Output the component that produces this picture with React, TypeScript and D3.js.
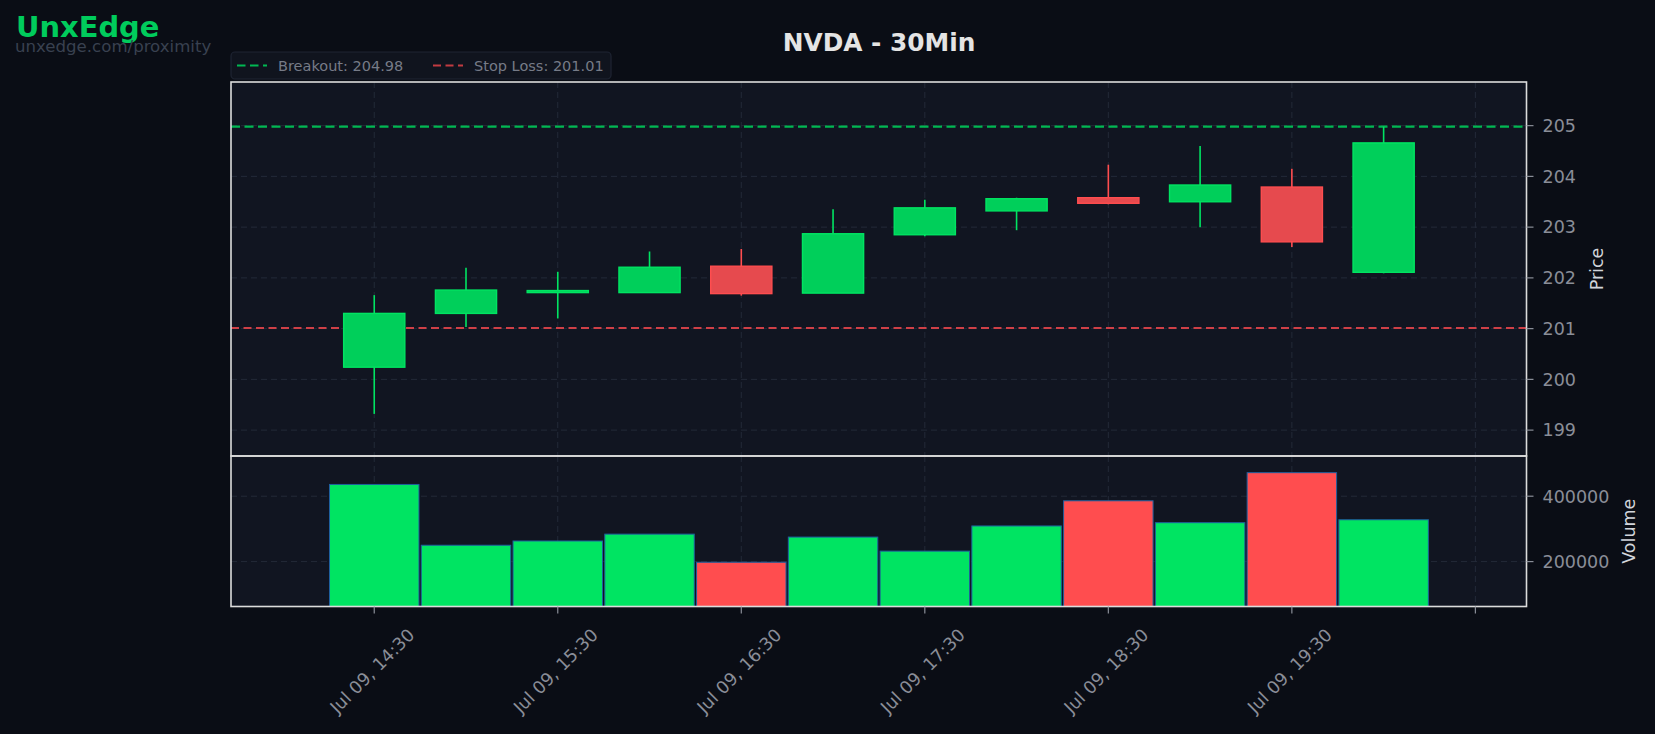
import React from "react";
import * as d3 from "d3";

// ---- data ----
const times = [
  "2025-07-09T14:30", "2025-07-09T15:00", "2025-07-09T15:30", "2025-07-09T16:00",
  "2025-07-09T16:30", "2025-07-09T17:00", "2025-07-09T17:30", "2025-07-09T18:00",
  "2025-07-09T18:30", "2025-07-09T19:00", "2025-07-09T19:30", "2025-07-09T20:00",
];
const opens = [200.24, 201.30, 201.71, 201.71, 202.23, 201.70, 202.85, 203.32, 203.58, 203.50, 203.79, 202.11];
const highs = [201.66, 202.20, 202.12, 202.52, 202.57, 203.35, 203.54, 203.58, 204.23, 204.60, 204.15, 204.98];
const lows = [199.32, 201.03, 201.20, 201.71, 201.65, 201.70, 202.82, 202.94, 203.45, 203.00, 202.61, 202.09];
const closes = [201.30, 201.76, 201.75, 202.21, 201.69, 202.87, 203.38, 203.56, 203.47, 203.83, 202.71, 204.66];
const volumes = [436000, 250000, 263000, 284000, 198000, 275000, 232000, 309000, 386000, 319000, 472000, 328000];

const breakout = 204.98;
const stopLoss = 201.01;
const priceTicks = [199, 200, 201, 202, 203, 204, 205];
const volumeTicks = [200000, 400000];
const xTickTimes = [
  "2025-07-09T14:30", "2025-07-09T15:30", "2025-07-09T16:30", "2025-07-09T17:30",
  "2025-07-09T18:30", "2025-07-09T19:30", "2025-07-09T20:30",
];
const xLabeled = [true, true, true, true, true, true, false];

const title = "NVDA - 30Min";

// ---- styling ----
const W = 1655, H = 734;
const PL = 231, PR = 1526.5;
const PT = 82, PB = 456;
const VT = 456, VB = 606.5;
const BG = "#0a0d15";
const PLOT_BG = "#111521";
const GRID = "#232a38";
const FRAME = "#dcdcdc";
const TICK = "#8a8e98";
const UP_FILL = "#00cf5a";
const UP_EDGE = "#00e462";
const DN_FILL = "#e64a4e";
const DN_EDGE = "#ff4d4f";
const FONT = "DejaVu Sans, sans-serif";

const parse = (s: string) => {
  const [d, t] = s.split("T");
  const [y, m, dd] = d.split("-").map(Number);
  const [hh, mm] = t.split(":").map(Number);
  return new Date(Date.UTC(y, m - 1, dd, hh, mm));
};

export default function App() {
  const dates = times.map(parse);
  const step = 30 * 60 * 1000;
  const t0 = dates[0].getTime();
  const x = d3
    .scaleUtc()
    .domain([new Date(t0 - 1.561 * step), new Date(t0 + 12.557 * step)])
    .range([PL, PR]);
  const y = d3.scaleLinear().domain([198.49, 205.86]).range([PB, PT]);
  const yv = d3.scaleLinear().domain([62600, 523000]).range([VB, VT]);
  const fmt = d3.utcFormat("%b %d, %H:%M");
  const stepPx = x(new Date(t0 + step)) - x(new Date(t0));
  const bodyW = stepPx * (2 / 3);
  const volW = stepPx * 0.975;
  const xt = xTickTimes.map(parse);

  return (
    <svg
      width={W}
      height={H}
      style={{ position: "absolute", left: 0, top: 0, background: BG }}
      fontFamily={FONT}
    >
      <rect x={0} y={0} width={W} height={H} fill={BG} />
      {/* logo */}
      <text x={16} y={37} fontSize={28.9} fontWeight="bold" fill="#00cc5c">UnxEdge</text>
      <text x={15} y={51.5} fontSize={16.6} fill="#394150">unxedge.com/proximity</text>
      {/* title */}
      <text x={879} y={51} fontSize={24.8} fontWeight="bold" fill="#e4e4e4" textAnchor="middle">
        {title}
      </text>

      {/* panels background */}
      <rect x={PL} y={PT} width={PR - PL} height={PB - PT} fill={PLOT_BG} />
      <rect x={PL} y={VT} width={PR - PL} height={VB - VT} fill={PLOT_BG} />

      {/* grid */}
      {xt.map((t, i) => (
        <g key={"vg" + i}>
          <line x1={x(t)} x2={x(t)} y1={PT} y2={PB} stroke={GRID} strokeDasharray="6 4" strokeWidth={1} />
          <line x1={x(t)} x2={x(t)} y1={VT} y2={VB} stroke={GRID} strokeDasharray="6 4" strokeWidth={1} />
        </g>
      ))}
      {priceTicks.map((p) => (
        <line key={"hg" + p} x1={PL} x2={PR} y1={y(p)} y2={y(p)} stroke={GRID} strokeDasharray="6 4" strokeWidth={1} />
      ))}
      {volumeTicks.map((v) => (
        <line key={"vhg" + v} x1={PL} x2={PR} y1={yv(v)} y2={yv(v)} stroke={GRID} strokeDasharray="6 4" strokeWidth={1} />
      ))}

      {/* breakout / stop lines */}
      <line x1={PL} x2={PR} y1={y(breakout)} y2={y(breakout)} stroke="#00b852" strokeWidth={2.2} strokeDasharray="9 4.5" />
      <line x1={PL} x2={PR} y1={y(stopLoss)} y2={y(stopLoss)} stroke="#cf4047" strokeWidth={2} strokeDasharray="8 4.5" />

      {/* candles */}
      {dates.map((d, i) => {
        const up = closes[i] >= opens[i];
        const cx = x(d);
        const top = y(Math.max(opens[i], closes[i]));
        const bot = y(Math.min(opens[i], closes[i]));
        return (
          <g key={"c" + i}>
            <line x1={cx} x2={cx} y1={y(highs[i])} y2={y(lows[i])} stroke={up ? UP_EDGE : DN_EDGE} strokeWidth={1.6} />
            <rect
              x={cx - bodyW / 2}
              y={top}
              width={bodyW}
              height={Math.max(bot - top, 1.5)}
              fill={up ? UP_FILL : DN_FILL}
              stroke={up ? UP_EDGE : DN_EDGE}
              strokeWidth={1.4}
            />
          </g>
        );
      })}

      {/* volume */}
      {dates.map((d, i) => {
        const up = closes[i] >= opens[i];
        const cx = x(d);
        return (
          <rect
            key={"v" + i}
            x={cx - volW / 2}
            y={yv(volumes[i])}
            width={volW}
            height={VB - yv(volumes[i])}
            fill={up ? UP_EDGE : DN_EDGE}
            stroke="#1f5f9e"
            strokeWidth={1}
          />
        );
      })}

      {/* frames */}
      <rect x={PL} y={PT} width={PR - PL} height={PB - PT} fill="none" stroke={FRAME} strokeWidth={1.6} />
      <rect x={PL} y={VT} width={PR - PL} height={VB - VT} fill="none" stroke={FRAME} strokeWidth={1.6} />

      {/* price axis (right) */}
      {priceTicks.map((p) => (
        <g key={"pt" + p}>
          <line x1={PR} x2={PR + 7} y1={y(p)} y2={y(p)} stroke={TICK} strokeWidth={1.2} />
          <text x={PR + 16} y={y(p)} dy="0.36em" fontSize={17.5} fill={TICK}>{p}</text>
        </g>
      ))}
      <text transform={`translate(1603,${(PT + PB) / 2}) rotate(-90)`} textAnchor="middle" fontSize={17.5} fill="#d2d5db">
        Price
      </text>

      {/* volume axis */}
      {volumeTicks.map((v) => (
        <g key={"vt" + v}>
          <line x1={PR} x2={PR + 7} y1={yv(v)} y2={yv(v)} stroke={TICK} strokeWidth={1.2} />
          <text x={PR + 16} y={yv(v)} dy="0.36em" fontSize={17.5} fill={TICK}>{v}</text>
        </g>
      ))}
      <text transform={`translate(1635,${(VT + VB) / 2}) rotate(-90)`} textAnchor="middle" fontSize={17.5} fill="#d2d5db">
        Volume
      </text>

      {/* x axis */}
      {xt.map((t, i) => (
        <g key={"xt" + i}>
          <line x1={x(t)} x2={x(t)} y1={VB} y2={VB + 7} stroke={TICK} strokeWidth={1.2} />
          {xLabeled[i] && (
            <text
              transform={`translate(${x(t) - 2},${671}) rotate(-45)`}
              textAnchor="middle"
              dominantBaseline="central"
              fontSize={17.5}
              fill={TICK}
            >
              {fmt(t)}
            </text>
          )}
        </g>
      ))}

      {/* legend */}
      <rect x={231} y={52} width={380} height={27} rx={4} fill="#10141e" stroke="#1e2432" strokeWidth={1.2} />
      <line x1={237} x2={267} y1={65.5} y2={65.5} stroke="#00b852" strokeWidth={2.2} strokeDasharray="8.5 4.5" />
      <text x={278} y={70.5} fontSize={14.5} fill="#767b87">Breakout: {breakout.toFixed(2)}</text>
      <line x1={433} x2={463} y1={65.5} y2={65.5} stroke="#c23b41" strokeWidth={2} strokeDasharray="8 4.5" />
      <text x={474} y={70.5} fontSize={14.5} fill="#767b87">Stop Loss: {stopLoss.toFixed(2)}</text>
    </svg>
  );
}
